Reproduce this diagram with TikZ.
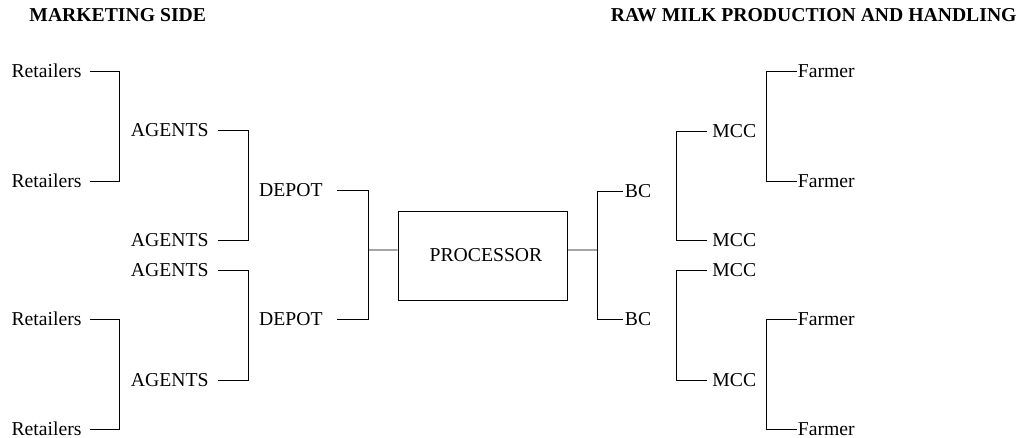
\documentclass[tikz,border=0pt]{standalone}
\usepackage{fontspec}
\setmainfont{Liberation Serif}
\usetikzlibrary{positioning}

\begin{document}
\begin{tikzpicture}[x=0.02cm, y=-0.02cm, line width=0.5pt,
    every node/.style={font=\fontsize{11.2}{13.4}\selectfont, inner sep=0pt, text height=7.4pt, text depth=0pt},
    retail/.style={anchor=east, inner xsep=0.16cm},
    agent/.style={anchor=east, inner xsep=0.18cm},
    depot/.style={anchor=east, inner xsep=0.28cm},
    bcnode/.style={anchor=west, inner xsep=0.03cm},
    mccnode/.style={anchor=west, inner xsep=0.1cm},
    farmer/.style={anchor=west, inner xsep=0.01cm},
    heading/.style={font=\fontsize{11.2}{13.4}\selectfont\bfseries, text height=, text depth=}]

    \useasboundingbox (0,0) rectangle (1030,438);

    % =================================================================
    % TIÊU ĐỀ
    % =================================================================
    \node[heading, anchor=base west] (hmkt) at (29,22) {MARKETING SIDE};
    \node[heading, anchor=base east] (hraw) at (1017,22) {RAW MILK PRODUCTION AND HANDLING};

    % =================================================================
    % BÊN TRÁI: RETAILERS - AGENTS - DEPOT
    % =================================================================
    % Retailers
    \node[retail] (ret1) at (90,71) {Retailers};
    \node[retail] (ret2) at (90,181) {Retailers};
    \node[retail] (ret3) at (90,319) {Retailers};
    \node[retail] (ret4) at (90,429) {Retailers};
    \draw (ret1.east) -- ++(29,0) |- (ret2.east);
    \draw (ret3.east) -- ++(29,0) |- (ret4.east);

    % Agents
    \node[agent] (agt1) at (218,130) {AGENTS};
    \node[agent] (agt2) at (218,240) {AGENTS};
    \node[agent] (agt3) at (218,270) {AGENTS};
    \node[agent] (agt4) at (218,380) {AGENTS};
    \draw (agt1.east) -- ++(30,0) |- (agt2.east);
    \draw (agt3.east) -- ++(30,0) |- (agt4.east);

    % Depot
    \node[depot] (dep1) at (337,190.5) {DEPOT};
    \node[depot] (dep2) at (337,319) {DEPOT};
    \draw (dep1.east) -- ++(31,0) |- (dep2.east);

    % =================================================================
    % Ở GIỮA: PROCESSOR
    % =================================================================
    \node[draw, minimum width=3.38cm, minimum height=1.78cm, text width=3.38cm, align=center] (proc) at (482.5,255.5) {\hspace*{0.14cm}PROCESSOR};
    \coordinate (jleft) at (368,250);
    \coordinate (jright) at (597,250);
    \draw (jleft) -- ([yshift=0.11cm]proc.west);
    \draw ([yshift=0.11cm]proc.east) -- (jright);

    % =================================================================
    % BÊN PHẢI: BC - MCC - FARMER
    % =================================================================
    % BC
    \node[bcnode] (bc1) at (623,191.5) {BC};
    \node[bcnode] (bc2) at (623,319) {BC};
    \draw (bc1.west) -- ++(-26,0) |- (bc2.west);

    % MCC
    \node[mccnode] (mcc1) at (707,131.5) {MCC};
    \node[mccnode] (mcc2) at (707,240) {MCC};
    \node[mccnode] (mcc3) at (707,270) {MCC};
    \node[mccnode] (mcc4) at (707,380) {MCC};
    \draw (mcc1.west) -- ++(-31,0) |- (mcc2.west);
    \draw (mcc3.west) -- ++(-31,0) |- (mcc4.west);

    % Farmer
    \node[farmer] (frm1) at (797,71) {Farmer};
    \node[farmer] (frm2) at (797,181) {Farmer};
    \node[farmer] (frm3) at (797,319) {Farmer};
    \node[farmer] (frm4) at (797,429) {Farmer};
    \draw (frm1.west) -- ++(-31,0) |- (frm2.west);
    \draw (frm3.west) -- ++(-31,0) |- (frm4.west);

\end{tikzpicture}
\end{document}
